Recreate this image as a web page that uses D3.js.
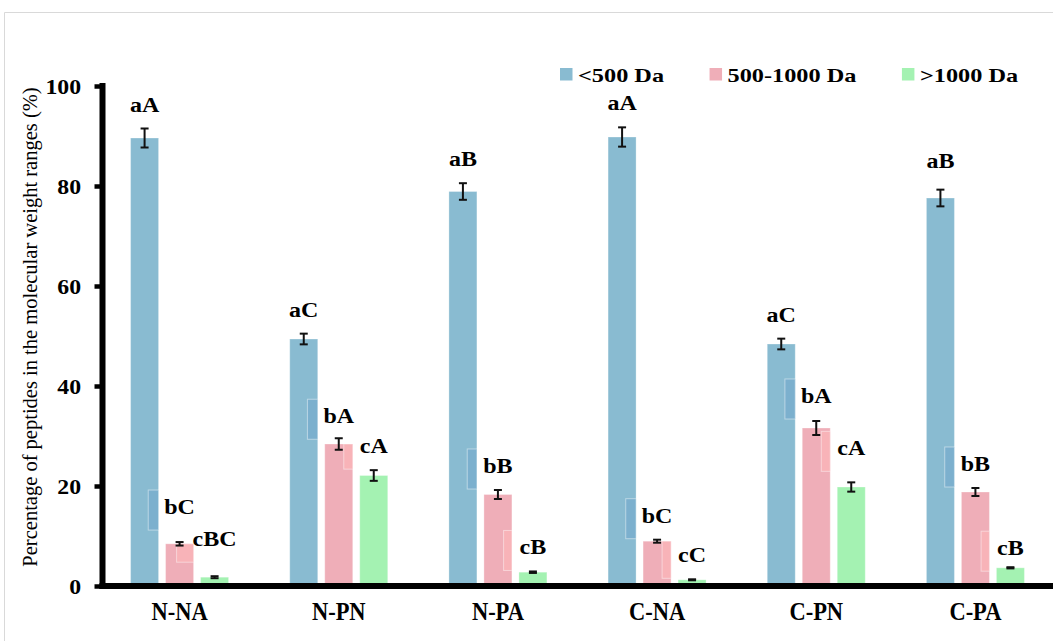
<!DOCTYPE html>
<html>
<head>
<meta charset="utf-8">
<script src="https://cdn.jsdelivr.net/npm/d3@7/dist/d3.min.js"></script>
<style>
  html, body { margin: 0; padding: 0; background: #ffffff; }
  svg { display: block; }
  text { font-family: "Liberation Serif", "Times New Roman", serif; }
</style>
</head>
<body>
<script>
// ---------- DATA ----------
const groups = ["N-NA", "N-PN", "N-PA", "C-NA", "C-PN", "C-PA"];
const seriesNames = ["<500 Da", "500-1000 Da", ">1000 Da"];
const lowMW   = [89.6, 49.4, 78.9, 89.8, 48.4, 77.6];
const lowErr  = [1.9, 1.07, 1.66, 1.93, 1.07, 1.67];
const midMW   = [8.44, 28.4, 18.3, 8.96, 31.6, 18.8];
const midErr  = [0.35, 1.15, 0.9, 0.3, 1.4, 0.8];
const highMW  = [1.76, 22.1, 2.76, 1.24, 19.8, 3.64];
const highErr = [0.2, 1.07, 0.15, 0.1, 0.93, 0.12];
const lowLabels  = ["aA", "aC", "aB", "aA", "aC", "aB"];
const midLabels  = ["bC", "bA", "bB", "bC", "bA", "bB"];
const highLabels = ["cBC", "cA", "cB", "cC", "cA", "cB"];
const yTicks = [0, 20, 40, 60, 80, 100];
const yTitle = "Percentage of peptides in the molecular weight ranges (%)";

// ---------- LAYOUT / STYLE ----------
const W = 1053, H = 641;
const colors = ["#89bbd1", "#efaeb8", "#a4f2b2"];
const patchColors = ["#7cb0ce", "#f8b3b8", "#9aeaa8"];
const values = [lowMW, midMW, highMW];
const errs = [lowErr, midErr, highErr];
const labels = [lowLabels, midLabels, highLabels];
// extra lift (px) for individual letter labels [series][group]
const labelLift = [
  [0, 0, 0, 0, 0, 5],
  [11, -2, 0, 0, 1, 0],
  [13, 0, 0, 0, 10, -5]
];

const svg = d3.select("body").append("svg").attr("width", W).attr("height", H);

// frame
svg.append("path").attr("d", `M4.5,${H} V12.5 H${W}`)
  .attr("fill", "none").attr("stroke", "#d9d9d9").attr("stroke-width", 1);

const x = d3.scaleBand().domain(groups).range([100, 1055]).padding(0);
const xi = d3.scaleBand().domain(d3.range(3))
  .range([x.bandwidth() / 2 - 52.5, x.bandwidth() / 2 + 52.5])
  .paddingInner(0.2).paddingOuter(0.1);
const y = d3.scaleLinear().domain([0, 100]).range([586, 86]);

const rows = [];
groups.forEach((g, gi) => {
  for (let s = 0; s < 3; s++) {
    rows.push({ g, gi, s, v: values[s][gi], e: errs[s][gi], lab: labels[s][gi],
      x0: x(g) + xi(s), w: xi.bandwidth() });
  }
});

// bars
svg.append("g").selectAll("rect").data(rows).join("rect")
  .attr("x", d => d.x0).attr("width", d => d.w)
  .attr("y", d => y(d.v)).attr("height", d => y(0) - y(d.v))
  .attr("fill", d => colors[d.s])
  .attr("stroke", "rgba(255,255,255,0.3)").attr("stroke-width", 1);

// patch layer (drawn before labels)
const patchG = svg.append("g");

// error bars
const eg = svg.append("g").attr("stroke", "#111").attr("stroke-width", 2);
rows.forEach(d => {
  const cx = d.x0 + d.w / 2;
  eg.append("line").attr("x1", cx).attr("x2", cx).attr("y1", y(d.v + d.e)).attr("y2", y(d.v - d.e));
  eg.append("line").attr("x1", cx - 4).attr("x2", cx + 4).attr("y1", y(d.v + d.e)).attr("y2", y(d.v + d.e));
  eg.append("line").attr("x1", cx - 4).attr("x2", cx + 4).attr("y1", y(d.v - d.e)).attr("y2", y(d.v - d.e));
});

// letter labels
const labSX = 1.2;
const lg = svg.append("g");
rows.forEach(d => {
  const cx = d.x0 + d.w / 2;
  const base = y(d.v + d.e) - 17 - labelLift[d.s][d.gi];
  const t = lg.append("text")
    .attr("font-size", 20).attr("font-weight", "bold").attr("fill", "#000")
    .attr("text-anchor", "middle")
    .attr("transform", `translate(${cx},${base}) scale(${labSX},1)`)
    .text(d.lab);
  const tw = t.node().getComputedTextLength() * labSX;
  const left = cx - tw / 2;
  if (d.s > 0) {
    // translucent label box overlapping the previous bar
    const prev = rows.find(r => r.gi === d.gi && r.s === d.s - 1);
    const bx0 = Math.max(left - 16, prev.x0), bx1 = prev.x0 + prev.w;
    const by0 = Math.max(base - 24, y(prev.v)), by1 = Math.min(base + 16, y(0));
    if (bx1 > bx0 && by1 > by0) {
      patchG.append("rect").attr("x", bx0).attr("y", by0)
        .attr("width", bx1 - bx0).attr("height", by1 - by0)
        .attr("fill", patchColors[d.s - 1])
        .attr("stroke", "rgba(255,255,255,0.45)").attr("stroke-width", 1);
    }
  }
});

// y axis ticks + labels
const yAxis = svg.append("g").attr("transform", "translate(102.5,0)")
  .call(d3.axisLeft(y).tickValues(yTicks).tickSize(8).tickSizeOuter(0).tickPadding(13.5));
yAxis.select(".domain").remove();
yAxis.selectAll(".tick line").attr("stroke", "#000").attr("stroke-width", 4.5);
yAxis.selectAll(".tick text").each(function () {
  const t = d3.select(this);
  const xx = +t.attr("x");
  t.attr("x", 0).attr("dy", null).attr("dominant-baseline", "central")
    .attr("transform", `translate(${xx},0) scale(1.08,1)`);
}).attr("font-size", 22).attr("font-weight", "bold").attr("fill", "#000")
  .attr("font-family", "Liberation Serif, Times New Roman, serif");

// axis lines
svg.append("line").attr("x1", 102.5).attr("x2", 102.5).attr("y1", y(100) - 3).attr("y2", y(0) + 3)
  .attr("stroke", "#000").attr("stroke-width", 6);
svg.append("line").attr("x1", 99.5).attr("x2", W).attr("y1", y(0)).attr("y2", y(0))
  .attr("stroke", "#000").attr("stroke-width", 6);

// x axis labels
const xAxis = svg.append("g").attr("transform", `translate(0,${y(0)})`)
  .call(d3.axisBottom(x).tickSize(0).tickSizeOuter(0));
xAxis.select(".domain").remove();
xAxis.selectAll(".tick text").each(function () {
  d3.select(this).attr("y", null).attr("dy", null)
    .attr("transform", "translate(0,34) scale(0.9,1)");
}).attr("font-size", 25).attr("font-weight", "bold").attr("fill", "#000")
  .attr("font-family", "Liberation Serif, Times New Roman, serif");

// y title
svg.append("text")
  .attr("transform", `translate(29.5,${327}) rotate(-90)`)
  .attr("text-anchor", "middle").attr("dominant-baseline", "central")
  .attr("font-size", 20.5).attr("fill", "#000")
  .text(yTitle);

// legend
const legSX = 1.35;
let lx = 560;
const legG = svg.append("g");
seriesNames.forEach((name, i) => {
  legG.append("rect").attr("x", lx).attr("y", 68).attr("width", 12.5).attr("height", 12.5)
    .attr("fill", colors[i]);
  const t = legG.append("text")
    .attr("transform", `translate(${lx + 18},81.5) scale(${legSX},1)`)
    .attr("font-size", 18).attr("font-weight", "bold").attr("fill", "#000")
    .text(name);
  const tw = t.node().getComputedTextLength() * legSX;
  lx = lx + 18 + tw + 45.5;
});
</script>
</body>
</html>
